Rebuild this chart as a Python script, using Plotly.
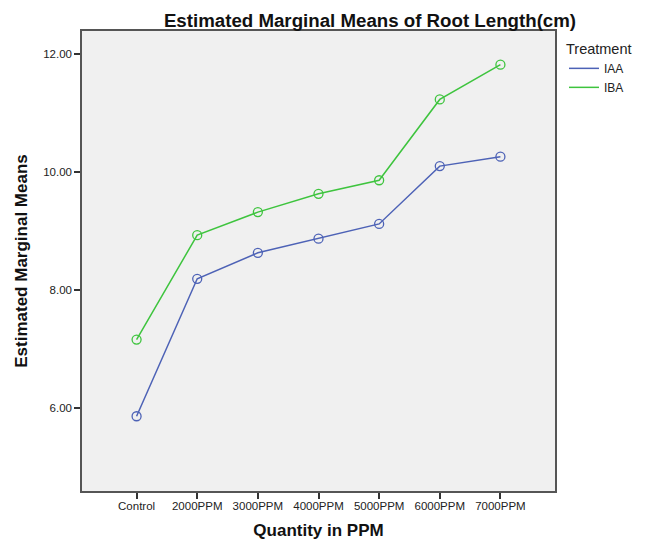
import plotly.graph_objects as go

categories = ["Control", "2000PPM", "3000PPM", "4000PPM", "5000PPM", "6000PPM", "7000PPM"]
iaa = [5.86, 8.19, 8.63, 8.87, 9.12, 10.10, 10.26]
iba = [7.16, 8.93, 9.32, 9.63, 9.86, 11.23, 11.82]
series_names = ["IAA", "IBA"]
y_ticks = [6, 8, 10, 12]

FONT = "Liberation Sans, Arial, sans-serif"
COLORS = ["#4d62b6", "#3ec43e"]

fig = go.Figure()
for name, vals, col in zip(series_names, [iaa, iba], COLORS):
    fig.add_trace(go.Scatter(x=categories, y=vals, name=name, mode="lines+markers",
                             showlegend=False,
                             line=dict(color=col, width=1.5),
                             marker=dict(symbol="circle-open", size=9, color=col, line=dict(width=1.3))))
# legend entries (line only, as in the reference)
for name, col in zip(series_names, COLORS):
    fig.add_trace(go.Scatter(x=[None], y=[None], name=name, mode="lines",
                             line=dict(color=col, width=1.5)))

fig.update_layout(
    width=646, height=545,
    margin=dict(l=82, r=91, t=31, b=54, autoexpand=False),
    paper_bgcolor="white", plot_bgcolor="#f0f0f0",
    font=dict(family=FONT, size=11.5, color="#222"),
    title=dict(text="<b>Estimated Marginal Means of Root Length(cm)</b>",
               x=370 / 646, xanchor="center", y=1 - 20 / 545, yanchor="middle",
               font=dict(size=18.7, color="#111")),
    legend=dict(title=dict(text="Treatment", font=dict(size=14.5)),
                x=1.019, xanchor="left", y=1.0 - 4 / 460, yanchor="top",
                font=dict(size=12), bgcolor="rgba(0,0,0,0)", tracegroupgap=0,
                itemwidth=30),
    xaxis=dict(type="category", range=[-0.9, 6.9], showgrid=False, zeroline=False,
               automargin=False, ticklabelstandoff=-3,
               showline=True, linecolor="#555", linewidth=1.5, mirror=True,
               ticks="outside", ticklen=6, tickcolor="#333", tickwidth=1.5,
               title=dict(text="<b>Quantity in PPM</b>", font=dict(size=17, color="#111"), standoff=14)),
    yaxis=dict(range=[4.593, 12.39], tickvals=y_ticks, tickformat=".2f",
               showgrid=False, zeroline=False, automargin=False,
               showline=True, linecolor="#555", linewidth=1.5, mirror=True,
               ticks="outside", ticklen=6, tickcolor="#333", tickwidth=1.5,
               title=dict(text="<b>Estimated Marginal Means</b>", font=dict(size=17, color="#111"), standoff=11)),
)

fig.write_html("out.html", config={"displayModeBar": False},
               post_script="document.body.style.margin='0';")
